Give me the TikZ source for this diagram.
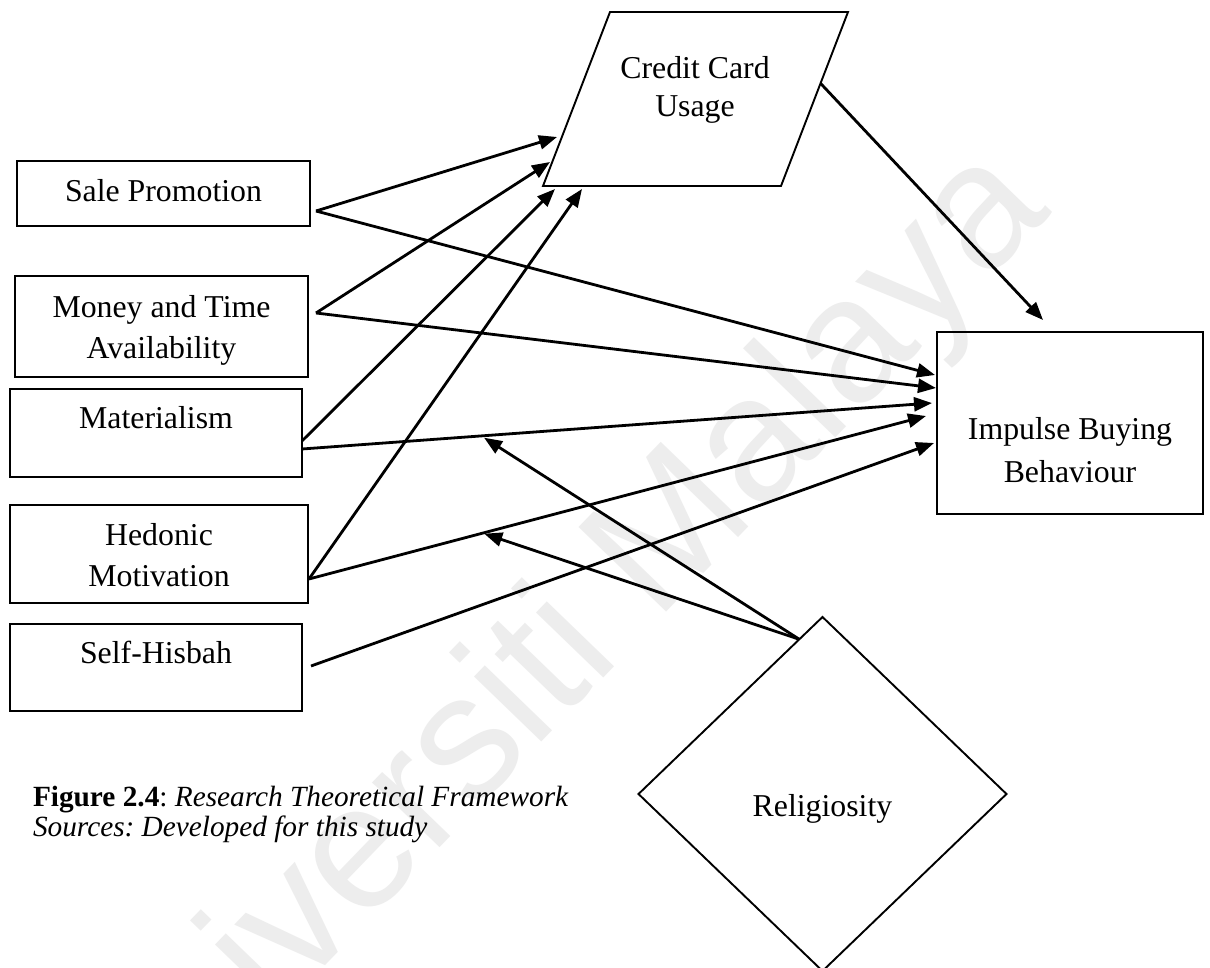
\documentclass[tikz,border=0pt]{standalone}
\usepackage{fontspec}
\setmainfont{Liberation Serif}
\newfontfamily\wmfont{Liberation Sans}
\usetikzlibrary{arrows.meta,shapes.geometric,calc}
\frenchspacing

\begin{document}
\begin{tikzpicture}[x=1pt,y=-1pt,
  every node/.style={inner sep=0pt,outer sep=0pt},
  bodytext/.style={font=\fontsize{31.8pt}{41pt}\selectfont},
  factor/.style={draw,line width=2.4pt,align=center,anchor=north west,bodytext},
  frame/.style={draw,line width=1.9pt,line join=miter},
  link/.style={line width=2.8pt,-{Triangle[length=18pt,width=14pt]}},
  watermark/.style={text=black!7,font=\wmfont\fontsize{177pt}{177pt}\selectfont}
]
% page
\fill[white] (0,0) rectangle (1210,968);
\useasboundingbox (0,0) rectangle (1210,968);

% faint background stamp
\node[watermark,rotate=46,anchor=base] (stamp) at (585,697) {Universiti Malaya};

% independent variables (text height = top to last baseline)
\node[factor,minimum width=293pt,text height=41pt,text depth=24pt] (sale) at (17,161) {Sale Promotion};
\node[factor,minimum width=293pt,text height=82pt,text depth=19pt] (money) at (15,276) {Money and Time\\Availability};
\node[factor,minimum width=292pt,text height=39pt,text depth=49pt] (mater) at (10,389) {Materialism};
\node[factor,minimum width=298pt,text height=81pt,text depth=17pt] (hedon) at (10,505) {Hedonic\\Motivation};
\node[factor,minimum width=292pt,text height=39pt,text depth=48pt] (hisbah) at (10,624) {Self-Hisbah};

% dependent variable
\node[factor,minimum width=266pt,text height=150pt,text depth=32pt,
      font=\fontsize{31.8pt}{43pt}\selectfont] (impulse) at (937,332) {Impulse Buying\\Behaviour};

% mediator: parallelogram
\coordinate (cc-nw) at (610,12);
\coordinate (cc-ne) at (848,12);
\coordinate (cc-se) at (781,186);
\coordinate (cc-sw) at (543,186);
\draw[frame] (cc-nw) -- (cc-ne) -- (cc-se) -- (cc-sw) -- cycle;
\node[align=center,anchor=base,font=\fontsize{31.8pt}{38pt}\selectfont] (cc) at (695,117) {Credit Card\\Usage};

% moderator: diamond
\node[diamond,frame,bodytext,minimum width=368pt,minimum height=354pt,
      text height=44pt,text depth=0pt] (relig) at (822.5,794) {Religiosity};

% ports
\coordinate (sale-out)   at ($(sale.east)+(6,17.5)$);
\coordinate (money-out)  at ($(money.east)+(8,-13.5)$);
\coordinate (mater-up)   at ($(mater.east)+(0,8)$);
\coordinate (mater-out)  at ($(mater.east)+(0,16)$);
\coordinate (hedon-out)  at ($(hedon.east)+(1,25)$);
\coordinate (hisbah-out) at ($(hisbah.east)+(9,-1.5)$);

\coordinate (cc-in1) at ($(cc-sw)+(14,-49)$);
\coordinate (cc-in2) at ($(cc-sw)+(7,-24)$);
\coordinate (cc-in3) at ($(cc-sw)+(12,3)$);
\coordinate (cc-in4) at ($(cc-sw)+(39,3)$);
\coordinate (cc-out) at ($(cc-ne)!0.41!(cc-se)$);

\coordinate (ib-in1) at ($(impulse.west)+(-2,-48)$);
\coordinate (ib-in2) at ($(impulse.west)+(-1,-35)$);
\coordinate (ib-in3) at ($(impulse.west)+(-5,-20)$);
\coordinate (ib-in4) at ($(impulse.west)+(-11,-7)$);
\coordinate (ib-in5) at ($(impulse.west)+(-3,20)$);
\coordinate (ib-top) at ($(impulse.north)+(-27,-12)$);

\coordinate (rel-out) at ($(relig.north)!0.126!(relig.west)$);
\coordinate (mod1) at ($(mater-out)!0.289!(ib-in3)+(0,2)$);
\coordinate (mod2) at ($(hedon-out)!0.284!(ib-in4)+(0,1)$);

% paths to the mediator
\draw[link] (sale-out)  -- (cc-in1);
\draw[link] (money-out) -- (cc-in2);
\draw[link] (mater-up)  -- (cc-in3);
\draw[link] (hedon-out) -- (cc-in4);

% direct paths
\draw[link] (sale-out)   -- (ib-in1);
\draw[link] (money-out)  -- (ib-in2);
\draw[link] (mater-out)  -- (ib-in3);
\draw[link] (hedon-out)  -- (ib-in4);
\draw[link] (hisbah-out) -- (ib-in5);
\draw[link] (cc-out)     -- (ib-top);

% moderation
\draw[link] (rel-out) -- (mod1);
\draw[link] (rel-out) -- (mod2);

% caption (anchored at the baseline of its last line)
\node[anchor=base west,align=left,font=\fontsize{29.3pt}{30pt}\selectfont] (caption) at (33,836)
  {\textbf{Figure 2.4}: \textit{Research Theoretical Framework}\\\textit{Sources: Developed for this study}};
\end{tikzpicture}
\end{document}
